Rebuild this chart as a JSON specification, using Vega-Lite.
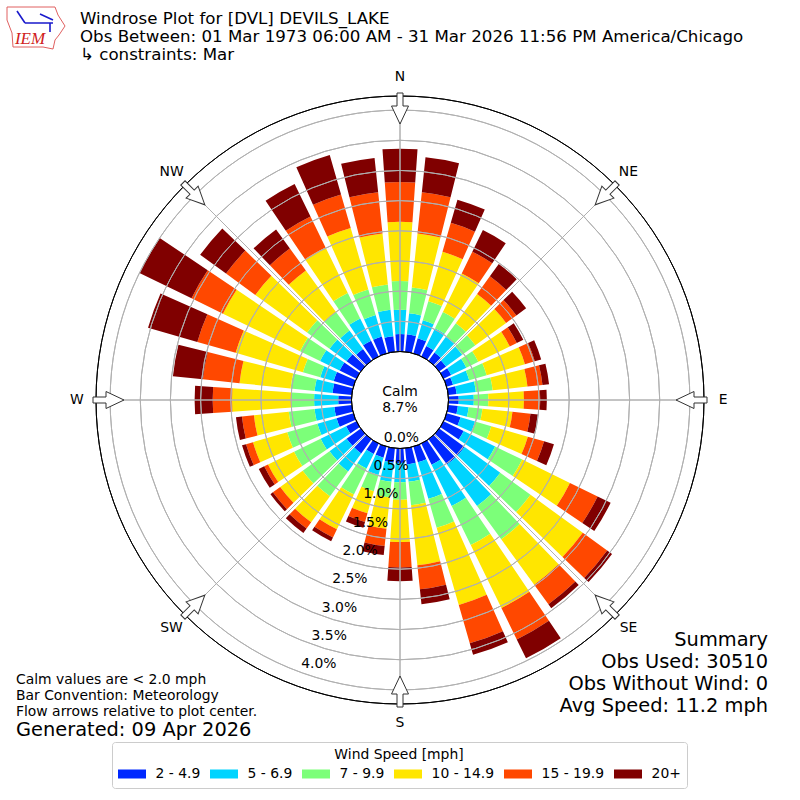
{
  "$schema": "https://vega.github.io/schema/vega-lite/v6.json",
  "width": 800,
  "height": 800,
  "padding": 0,
  "autosize": "none",
  "background": "white",
  "config": {
    "view": {"stroke": null},
    "font": "DejaVu Sans",
    "text": {"font": "DejaVu Sans", "color": "black"}
  },
  "title": {
    "text": ["Windrose Plot for [DVL] DEVILS_LAKE", "Obs Between: 01 Mar 1973 06:00 AM - 31 Mar 2026 11:56 PM America/Chicago", "\u00a0↳ constraints: Mar"],
    "anchor": "start",
    "frame": "group",
    "dx": 80,
    "offset": -64,
    "baseline": "top",
    "font": "DejaVu Sans",
    "fontSize": 16.67,
    "fontWeight": "normal",
    "lineHeight": 18,
    "color": "black"
  },
  "resolve": {"scale": {"x": "independent", "y": "independent"}},
  "layer": [
    {
      "data": {"values": [
        {"dir":0,"start":-4,"end":4,"speed":"2 - 4.9","low":0,"high":0.29},{"dir":0,"start":-4,"end":4,"speed":"5 - 6.9","low":0.29,"high":0.69},{"dir":0,"start":-4,"end":4,"speed":"7 - 9.9","low":0.69,"high":1.17},{"dir":0,"start":-4,"end":4,"speed":"10 - 14.9","low":1.17,"high":2.15},{"dir":0,"start":-4,"end":4,"speed":"15 - 19.9","low":2.15,"high":2.81},{"dir":0,"start":-4,"end":4,"speed":"20+","low":2.81,"high":3.36},
        {"dir":10,"start":6,"end":14,"speed":"2 - 4.9","low":0,"high":0.29},{"dir":10,"start":6,"end":14,"speed":"5 - 6.9","low":0.29,"high":0.64},{"dir":10,"start":6,"end":14,"speed":"7 - 9.9","low":0.64,"high":1.07},{"dir":10,"start":6,"end":14,"speed":"10 - 14.9","low":1.07,"high":1.97},{"dir":10,"start":6,"end":14,"speed":"15 - 19.9","low":1.97,"high":2.66},{"dir":10,"start":6,"end":14,"speed":"20+","low":2.66,"high":3.24},
        {"dir":20,"start":16,"end":24,"speed":"2 - 4.9","low":0,"high":0.26},{"dir":20,"start":16,"end":24,"speed":"5 - 6.9","low":0.26,"high":0.57},{"dir":20,"start":16,"end":24,"speed":"7 - 9.9","low":0.57,"high":0.9},{"dir":20,"start":16,"end":24,"speed":"10 - 14.9","low":0.9,"high":1.75},{"dir":20,"start":16,"end":24,"speed":"15 - 19.9","low":1.75,"high":2.25},{"dir":20,"start":16,"end":24,"speed":"20+","low":2.25,"high":2.65},
        {"dir":30,"start":26,"end":34,"speed":"2 - 4.9","low":0,"high":0.19},{"dir":30,"start":26,"end":34,"speed":"5 - 6.9","low":0.19,"high":0.52},{"dir":30,"start":26,"end":34,"speed":"7 - 9.9","low":0.52,"high":0.82},{"dir":30,"start":26,"end":34,"speed":"10 - 14.9","low":0.82,"high":1.53},{"dir":30,"start":26,"end":34,"speed":"15 - 19.9","low":1.53,"high":1.93},{"dir":30,"start":26,"end":34,"speed":"20+","low":1.93,"high":2.33},
        {"dir":40,"start":36,"end":44,"speed":"2 - 4.9","low":0,"high":0.17},{"dir":40,"start":36,"end":44,"speed":"5 - 6.9","low":0.17,"high":0.49},{"dir":40,"start":36,"end":44,"speed":"7 - 9.9","low":0.49,"high":0.77},{"dir":40,"start":36,"end":44,"speed":"10 - 14.9","low":0.77,"high":1.37},{"dir":40,"start":36,"end":44,"speed":"15 - 19.9","low":1.37,"high":1.73},{"dir":40,"start":36,"end":44,"speed":"20+","low":1.73,"high":1.98},
        {"dir":50,"start":46,"end":54,"speed":"2 - 4.9","low":0,"high":0.14},{"dir":50,"start":46,"end":54,"speed":"5 - 6.9","low":0.14,"high":0.47},{"dir":50,"start":46,"end":54,"speed":"7 - 9.9","low":0.47,"high":0.74},{"dir":50,"start":46,"end":54,"speed":"10 - 14.9","low":0.74,"high":1.37},{"dir":50,"start":46,"end":54,"speed":"15 - 19.9","low":1.37,"high":1.58},{"dir":50,"start":46,"end":54,"speed":"20+","low":1.58,"high":1.78},
        {"dir":60,"start":56,"end":64,"speed":"2 - 4.9","low":0,"high":0.14},{"dir":60,"start":56,"end":64,"speed":"5 - 6.9","low":0.14,"high":0.42},{"dir":60,"start":56,"end":64,"speed":"7 - 9.9","low":0.42,"high":0.64},{"dir":60,"start":56,"end":64,"speed":"10 - 14.9","low":0.64,"high":1.22},{"dir":60,"start":56,"end":64,"speed":"15 - 19.9","low":1.22,"high":1.35},{"dir":60,"start":56,"end":64,"speed":"20+","low":1.35,"high":1.47},
        {"dir":70,"start":66,"end":74,"speed":"2 - 4.9","low":0,"high":0.11},{"dir":70,"start":66,"end":74,"speed":"5 - 6.9","low":0.11,"high":0.39},{"dir":70,"start":66,"end":74,"speed":"7 - 9.9","low":0.39,"high":0.69},{"dir":70,"start":66,"end":74,"speed":"10 - 14.9","low":0.69,"high":1.35},{"dir":70,"start":66,"end":74,"speed":"15 - 19.9","low":1.35,"high":1.52},{"dir":70,"start":66,"end":74,"speed":"20+","low":1.52,"high":1.63},
        {"dir":80,"start":76,"end":84,"speed":"2 - 4.9","low":0,"high":0.14},{"dir":80,"start":76,"end":84,"speed":"5 - 6.9","low":0.14,"high":0.46},{"dir":80,"start":76,"end":84,"speed":"7 - 9.9","low":0.46,"high":0.74},{"dir":80,"start":76,"end":84,"speed":"10 - 14.9","low":0.74,"high":1.32},{"dir":80,"start":76,"end":84,"speed":"15 - 19.9","low":1.32,"high":1.57},{"dir":80,"start":76,"end":84,"speed":"20+","low":1.57,"high":1.68},
        {"dir":90,"start":86,"end":94,"speed":"2 - 4.9","low":0,"high":0.17},{"dir":90,"start":86,"end":94,"speed":"5 - 6.9","low":0.17,"high":0.42},{"dir":90,"start":86,"end":94,"speed":"7 - 9.9","low":0.42,"high":0.66},{"dir":90,"start":86,"end":94,"speed":"10 - 14.9","low":0.66,"high":1.25},{"dir":90,"start":86,"end":94,"speed":"15 - 19.9","low":1.25,"high":1.52},{"dir":90,"start":86,"end":94,"speed":"20+","low":1.52,"high":1.63},
        {"dir":100,"start":96,"end":104,"speed":"2 - 4.9","low":0,"high":0.16},{"dir":100,"start":96,"end":104,"speed":"5 - 6.9","low":0.16,"high":0.34},{"dir":100,"start":96,"end":104,"speed":"7 - 9.9","low":0.34,"high":0.57},{"dir":100,"start":96,"end":104,"speed":"10 - 14.9","low":0.57,"high":1.07},{"dir":100,"start":96,"end":104,"speed":"15 - 19.9","low":1.07,"high":1.37},{"dir":100,"start":96,"end":104,"speed":"20+","low":1.37,"high":1.5},
        {"dir":110,"start":106,"end":114,"speed":"2 - 4.9","low":0,"high":0.24},{"dir":110,"start":106,"end":114,"speed":"5 - 6.9","low":0.24,"high":0.49},{"dir":110,"start":106,"end":114,"speed":"7 - 9.9","low":0.49,"high":0.77},{"dir":110,"start":106,"end":114,"speed":"10 - 14.9","low":0.77,"high":1.4},{"dir":110,"start":106,"end":114,"speed":"15 - 19.9","low":1.4,"high":1.68},{"dir":110,"start":106,"end":114,"speed":"20+","low":1.68,"high":1.85},
        {"dir":120,"start":116,"end":124,"speed":"2 - 4.9","low":0,"high":0.37},{"dir":120,"start":116,"end":124,"speed":"5 - 6.9","low":0.37,"high":0.95},{"dir":120,"start":116,"end":124,"speed":"7 - 9.9","low":0.95,"high":1.45},{"dir":120,"start":116,"end":124,"speed":"10 - 14.9","low":1.45,"high":2.33},{"dir":120,"start":116,"end":124,"speed":"15 - 19.9","low":2.33,"high":2.84},{"dir":120,"start":116,"end":124,"speed":"20+","low":2.84,"high":3.08},
        {"dir":130,"start":126,"end":134,"speed":"2 - 4.9","low":0,"high":0.52},{"dir":130,"start":126,"end":134,"speed":"5 - 6.9","low":0.52,"high":1.25},{"dir":130,"start":126,"end":134,"speed":"7 - 9.9","low":1.25,"high":1.87},{"dir":130,"start":126,"end":134,"speed":"10 - 14.9","low":1.87,"high":2.94},{"dir":130,"start":126,"end":134,"speed":"15 - 19.9","low":2.94,"high":3.44},{"dir":130,"start":126,"end":134,"speed":"20+","low":3.44,"high":3.54},
        {"dir":140,"start":136,"end":144,"speed":"2 - 4.9","low":0,"high":0.52},{"dir":140,"start":136,"end":144,"speed":"5 - 6.9","low":0.52,"high":1.37},{"dir":140,"start":136,"end":144,"speed":"7 - 9.9","low":1.37,"high":2.05},{"dir":140,"start":136,"end":144,"speed":"10 - 14.9","low":2.05,"high":2.98},{"dir":140,"start":136,"end":144,"speed":"15 - 19.9","low":2.98,"high":3.38},{"dir":140,"start":136,"end":144,"speed":"20+","low":3.38,"high":3.46},
        {"dir":150,"start":146,"end":154,"speed":"2 - 4.9","low":0,"high":0.39},{"dir":150,"start":146,"end":154,"speed":"5 - 6.9","low":0.39,"high":1.15},{"dir":150,"start":146,"end":154,"speed":"7 - 9.9","low":1.15,"high":1.87},{"dir":150,"start":146,"end":154,"speed":"10 - 14.9","low":1.87,"high":3.03},{"dir":150,"start":146,"end":154,"speed":"15 - 19.9","low":3.03,"high":3.61},{"dir":150,"start":146,"end":154,"speed":"20+","low":3.61,"high":3.96},
        {"dir":160,"start":156,"end":164,"speed":"2 - 4.9","low":0,"high":0.27},{"dir":160,"start":156,"end":164,"speed":"5 - 6.9","low":0.27,"high":0.9},{"dir":160,"start":156,"end":164,"speed":"7 - 9.9","low":0.9,"high":1.4},{"dir":160,"start":156,"end":164,"speed":"10 - 14.9","low":1.4,"high":2.73},{"dir":160,"start":156,"end":164,"speed":"15 - 19.9","low":2.73,"high":3.39},{"dir":160,"start":156,"end":164,"speed":"20+","low":3.39,"high":3.59},
        {"dir":170,"start":166,"end":174,"speed":"2 - 4.9","low":0,"high":0.27},{"dir":170,"start":166,"end":174,"speed":"5 - 6.9","low":0.27,"high":0.56},{"dir":170,"start":166,"end":174,"speed":"7 - 9.9","low":0.56,"high":0.95},{"dir":170,"start":166,"end":174,"speed":"10 - 14.9","low":0.95,"high":1.95},{"dir":170,"start":166,"end":174,"speed":"15 - 19.9","low":1.95,"high":2.35},{"dir":170,"start":166,"end":174,"speed":"20+","low":2.35,"high":2.6},
        {"dir":180,"start":176,"end":184,"speed":"2 - 4.9","low":0,"high":0.24},{"dir":180,"start":176,"end":184,"speed":"5 - 6.9","low":0.24,"high":0.56},{"dir":180,"start":176,"end":184,"speed":"7 - 9.9","low":0.56,"high":0.85},{"dir":180,"start":176,"end":184,"speed":"10 - 14.9","low":0.85,"high":1.55},{"dir":180,"start":176,"end":184,"speed":"15 - 19.9","low":1.55,"high":1.97},{"dir":180,"start":176,"end":184,"speed":"20+","low":1.97,"high":2.2},
        {"dir":190,"start":186,"end":194,"speed":"2 - 4.9","low":0,"high":0.24},{"dir":190,"start":186,"end":194,"speed":"5 - 6.9","low":0.24,"high":0.56},{"dir":190,"start":186,"end":194,"speed":"7 - 9.9","low":0.56,"high":0.82},{"dir":190,"start":186,"end":194,"speed":"10 - 14.9","low":0.82,"high":1.34},{"dir":190,"start":186,"end":194,"speed":"15 - 19.9","low":1.34,"high":1.63},{"dir":190,"start":186,"end":194,"speed":"20+","low":1.63,"high":1.78},
        {"dir":200,"start":196,"end":204,"speed":"2 - 4.9","low":0,"high":0.19},{"dir":200,"start":196,"end":204,"speed":"5 - 6.9","low":0.19,"high":0.49},{"dir":200,"start":196,"end":204,"speed":"7 - 9.9","low":0.49,"high":0.77},{"dir":200,"start":196,"end":204,"speed":"10 - 14.9","low":0.77,"high":1.15},{"dir":200,"start":196,"end":204,"speed":"15 - 19.9","low":1.15,"high":1.3},{"dir":200,"start":196,"end":204,"speed":"20+","low":1.3,"high":1.4},
        {"dir":210,"start":206,"end":214,"speed":"2 - 4.9","low":0,"high":0.19},{"dir":210,"start":206,"end":214,"speed":"5 - 6.9","low":0.19,"high":0.46},{"dir":210,"start":206,"end":214,"speed":"7 - 9.9","low":0.46,"high":0.94},{"dir":210,"start":206,"end":214,"speed":"10 - 14.9","low":0.94,"high":1.58},{"dir":210,"start":206,"end":214,"speed":"15 - 19.9","low":1.58,"high":1.73},{"dir":210,"start":206,"end":214,"speed":"20+","low":1.73,"high":1.8},
        {"dir":220,"start":216,"end":224,"speed":"2 - 4.9","low":0,"high":0.29},{"dir":220,"start":216,"end":224,"speed":"5 - 6.9","low":0.29,"high":0.66},{"dir":220,"start":216,"end":224,"speed":"7 - 9.9","low":0.66,"high":1.17},{"dir":220,"start":216,"end":224,"speed":"10 - 14.9","low":1.17,"high":1.7},{"dir":220,"start":216,"end":224,"speed":"15 - 19.9","low":1.7,"high":1.83},{"dir":220,"start":216,"end":224,"speed":"20+","low":1.83,"high":1.92},
        {"dir":230,"start":226,"end":234,"speed":"2 - 4.9","low":0,"high":0.29},{"dir":230,"start":226,"end":234,"speed":"5 - 6.9","low":0.29,"high":0.64},{"dir":230,"start":226,"end":234,"speed":"7 - 9.9","low":0.64,"high":1.19},{"dir":230,"start":226,"end":234,"speed":"10 - 14.9","low":1.19,"high":1.65},{"dir":230,"start":226,"end":234,"speed":"15 - 19.9","low":1.65,"high":1.8},{"dir":230,"start":226,"end":234,"speed":"20+","low":1.8,"high":1.85},
        {"dir":240,"start":236,"end":244,"speed":"2 - 4.9","low":0,"high":0.19},{"dir":240,"start":236,"end":244,"speed":"5 - 6.9","low":0.19,"high":0.66},{"dir":240,"start":236,"end":244,"speed":"7 - 9.9","low":0.66,"high":1.15},{"dir":240,"start":236,"end":244,"speed":"10 - 14.9","low":1.15,"high":1.63},{"dir":240,"start":236,"end":244,"speed":"15 - 19.9","low":1.63,"high":1.7},{"dir":240,"start":236,"end":244,"speed":"20+","low":1.7,"high":1.8},
        {"dir":250,"start":246,"end":254,"speed":"2 - 4.9","low":0,"high":0.29},{"dir":250,"start":246,"end":254,"speed":"5 - 6.9","low":0.29,"high":0.62},{"dir":250,"start":246,"end":254,"speed":"7 - 9.9","low":0.62,"high":1.14},{"dir":250,"start":246,"end":254,"speed":"10 - 14.9","low":1.14,"high":1.73},{"dir":250,"start":246,"end":254,"speed":"15 - 19.9","low":1.73,"high":1.85},{"dir":250,"start":246,"end":254,"speed":"20+","low":1.85,"high":1.92},
        {"dir":260,"start":256,"end":264,"speed":"2 - 4.9","low":0,"high":0.29},{"dir":260,"start":256,"end":264,"speed":"5 - 6.9","low":0.29,"high":0.62},{"dir":260,"start":256,"end":264,"speed":"7 - 9.9","low":0.62,"high":1.05},{"dir":260,"start":256,"end":264,"speed":"10 - 14.9","low":1.05,"high":1.63},{"dir":260,"start":256,"end":264,"speed":"15 - 19.9","low":1.63,"high":1.83},{"dir":260,"start":256,"end":264,"speed":"20+","low":1.83,"high":1.93},
        {"dir":270,"start":266,"end":274,"speed":"2 - 4.9","low":0,"high":0.22},{"dir":270,"start":266,"end":274,"speed":"5 - 6.9","low":0.22,"high":0.62},{"dir":270,"start":266,"end":274,"speed":"7 - 9.9","low":0.62,"high":0.99},{"dir":270,"start":266,"end":274,"speed":"10 - 14.9","low":0.99,"high":1.98},{"dir":270,"start":266,"end":274,"speed":"15 - 19.9","low":1.98,"high":2.3},{"dir":270,"start":266,"end":274,"speed":"20+","low":2.3,"high":2.6},
        {"dir":280,"start":276,"end":284,"speed":"2 - 4.9","low":0,"high":0.32},{"dir":280,"start":276,"end":284,"speed":"5 - 6.9","low":0.32,"high":0.62},{"dir":280,"start":276,"end":284,"speed":"7 - 9.9","low":0.62,"high":1.02},{"dir":280,"start":276,"end":284,"speed":"10 - 14.9","low":1.02,"high":1.87},{"dir":280,"start":276,"end":284,"speed":"15 - 19.9","low":1.87,"high":2.48},{"dir":280,"start":276,"end":284,"speed":"20+","low":2.48,"high":2.98},
        {"dir":290,"start":286,"end":294,"speed":"2 - 4.9","low":0,"high":0.34},{"dir":290,"start":286,"end":294,"speed":"5 - 6.9","low":0.34,"high":0.57},{"dir":290,"start":286,"end":294,"speed":"7 - 9.9","low":0.57,"high":0.87},{"dir":290,"start":286,"end":294,"speed":"10 - 14.9","low":0.87,"high":2.03},{"dir":290,"start":286,"end":294,"speed":"15 - 19.9","low":2.03,"high":2.69},{"dir":290,"start":286,"end":294,"speed":"20+","low":2.69,"high":3.54},
        {"dir":300,"start":296,"end":304,"speed":"2 - 4.9","low":0,"high":0.31},{"dir":300,"start":296,"end":304,"speed":"5 - 6.9","low":0.31,"high":0.67},{"dir":300,"start":296,"end":304,"speed":"7 - 9.9","low":0.67,"high":1.04},{"dir":300,"start":296,"end":304,"speed":"10 - 14.9","low":1.04,"high":2.46},{"dir":300,"start":296,"end":304,"speed":"15 - 19.9","low":2.46,"high":3.04},{"dir":300,"start":296,"end":304,"speed":"20+","low":3.04,"high":4.0},
        {"dir":310,"start":306,"end":314,"speed":"2 - 4.9","low":0,"high":0.29},{"dir":310,"start":306,"end":314,"speed":"5 - 6.9","low":0.29,"high":0.64},{"dir":310,"start":306,"end":314,"speed":"7 - 9.9","low":0.64,"high":1.1},{"dir":310,"start":306,"end":314,"speed":"10 - 14.9","low":1.1,"high":2.16},{"dir":310,"start":306,"end":314,"speed":"15 - 19.9","low":2.16,"high":2.76},{"dir":310,"start":306,"end":314,"speed":"20+","low":2.76,"high":3.29},
        {"dir":320,"start":316,"end":324,"speed":"2 - 4.9","low":0,"high":0.24},{"dir":320,"start":316,"end":324,"speed":"5 - 6.9","low":0.24,"high":0.62},{"dir":320,"start":316,"end":324,"speed":"7 - 9.9","low":0.62,"high":1.0},{"dir":320,"start":316,"end":324,"speed":"10 - 14.9","low":1.0,"high":1.85},{"dir":320,"start":316,"end":324,"speed":"15 - 19.9","low":1.85,"high":2.3},{"dir":320,"start":316,"end":324,"speed":"20+","low":2.3,"high":2.69},
        {"dir":330,"start":326,"end":334,"speed":"2 - 4.9","low":0,"high":0.29},{"dir":330,"start":326,"end":334,"speed":"5 - 6.9","low":0.29,"high":0.7},{"dir":330,"start":326,"end":334,"speed":"7 - 9.9","low":0.7,"high":1.17},{"dir":330,"start":326,"end":334,"speed":"10 - 14.9","low":1.17,"high":2.01},{"dir":330,"start":326,"end":334,"speed":"15 - 19.9","low":2.01,"high":2.58},{"dir":330,"start":326,"end":334,"speed":"20+","low":2.58,"high":3.18},
        {"dir":340,"start":336,"end":344,"speed":"2 - 4.9","low":0,"high":0.29},{"dir":340,"start":336,"end":344,"speed":"5 - 6.9","low":0.29,"high":0.66},{"dir":340,"start":336,"end":344,"speed":"7 - 9.9","low":0.66,"high":1.1},{"dir":340,"start":336,"end":344,"speed":"10 - 14.9","low":1.1,"high":2.16},{"dir":340,"start":336,"end":344,"speed":"15 - 19.9","low":2.16,"high":2.74},{"dir":340,"start":336,"end":344,"speed":"20+","low":2.74,"high":3.42},
        {"dir":350,"start":346,"end":354,"speed":"2 - 4.9","low":0,"high":0.26},{"dir":350,"start":346,"end":354,"speed":"5 - 6.9","low":0.26,"high":0.7},{"dir":350,"start":346,"end":354,"speed":"7 - 9.9","low":0.7,"high":1.12},{"dir":350,"start":346,"end":354,"speed":"10 - 14.9","low":1.12,"high":1.97},{"dir":350,"start":346,"end":354,"speed":"15 - 19.9","low":1.97,"high":2.66},{"dir":350,"start":346,"end":354,"speed":"20+","low":2.66,"high":3.23}
      ]},
      "mark": {"type": "arc"},
      "encoding": {
        "theta": {"field": "start", "type": "quantitative", "stack": null, "scale": {"type": "linear", "domain": [0, 360], "range": [0, 6.283185307]}},
        "theta2": {"field": "end"},
        "radius": {"field": "high", "type": "quantitative", "scale": {"type": "linear", "zero": false, "domain": [0, 4.234], "range": [48.5, 304]}},
        "radius2": {"field": "low"},
        "color": {
          "field": "speed",
          "type": "nominal",
          "scale": {
            "domain": ["2 - 4.9", "5 - 6.9", "7 - 9.9", "10 - 14.9", "15 - 19.9", "20+"],
            "range": ["#0028ff", "#00d4ff", "#7cff79", "#ffe600", "#ff4800", "#800000"]
          },
          "legend": {
            "title": "Wind Speed [mph]",
            "orient": "none",
            "legendX": 112,
            "legendY": 742,
            "direction": "horizontal",
            "columns": 6,
            "columnPadding": 9,
            "clipHeight": 15,
            "titleAnchor": "middle",
            "titleFont": "DejaVu Sans",
            "titleFontWeight": "normal",
            "titleFontSize": 13.9,
            "titleColor": "black",
            "titlePadding": 4.5,
            "labelFont": "DejaVu Sans",
            "labelFontSize": 13.9,
            "labelColor": "black",
            "labelOffset": 9.6,
            "symbolType": "M-1,-0.32H1V0.32H-1Z",
            "symbolSize": 784,
            "symbolStrokeWidth": 0,
            "symbolOpacity": 1,
            "strokeColor": "#cccccc",
            "cornerRadius": 3,
            "fillColor": "white",
            "padding": 6
          }
        }
      }
    },
    {
      "data": {"values": [{"pct":0.5},{"pct":1.0},{"pct":1.5},{"pct":2.0},{"pct":2.5},{"pct":3.0},{"pct":3.5},{"pct":4.0}]},
      "mark": {"type": "arc", "filled": false, "fill": null, "stroke": "#b0b0b0", "strokeWidth": 1},
      "encoding": {
        "theta": {"datum": 0, "stack": null},
        "theta2": {"datum": 360},
        "radius": {"field": "pct", "type": "quantitative"},
        "radius2": {"field": "pct"}
      }
    },
    {
      "data": {"values": [{"deg":0},{"deg":45},{"deg":90},{"deg":135},{"deg":180},{"deg":225},{"deg":270},{"deg":315}]},
      "mark": {"type": "arc", "filled": false, "fill": null, "stroke": "#b0b0b0", "strokeWidth": 1},
      "encoding": {
        "theta": {"field": "deg", "type": "quantitative", "stack": null},
        "theta2": {"field": "deg"},
        "radius": {"datum": 4.234},
        "radius2": {"datum": 0}
      }
    },
    {
      "data": {"values": [{"pct":0},{"pct":4.234}]},
      "mark": {"type": "arc", "filled": false, "fill": null, "stroke": "black", "strokeWidth": 1},
      "encoding": {
        "theta": {"datum": 0, "stack": null},
        "theta2": {"datum": 360},
        "radius": {"field": "pct", "type": "quantitative"},
        "radius2": {"field": "pct"}
      }
    },
    {
      "data": {"values": [{"name":"N","deg":0},{"name":"NE","deg":45},{"name":"E","deg":90},{"name":"SE","deg":135},{"name":"S","deg":180},{"name":"SW","deg":225},{"name":"W","deg":270},{"name":"NW","deg":315}]},
      "mark": {"type": "point", "shape": "M-3,-307V-294H-8.5L0,-276L8.5,-294H3V-307Z", "size": 4, "filled": true, "fill": "white", "stroke": "#333333", "strokeWidth": 1, "opacity": 1},
      "encoding": {
        "angle": {"field": "deg", "type": "quantitative", "scale": {"domain": [0, 360], "range": [0, 360]}}
      }
    },
    {
      "data": {"values": [{"name":"N","deg":0},{"name":"NE","deg":45},{"name":"E","deg":90},{"name":"SE","deg":135},{"name":"S","deg":180},{"name":"SW","deg":225},{"name":"W","deg":270},{"name":"NW","deg":315}]},
      "mark": {"type": "text", "fontSize": 13.9, "align": "center", "baseline": "middle"},
      "encoding": {
        "theta": {"field": "deg", "type": "quantitative", "stack": null},
        "radius": {"datum": 4.55},
        "text": {"field": "name"}
      }
    },
    {
      "data": {"values": [{"pct":0,"label":"0.0%"},{"pct":0.5,"label":"0.5%"},{"pct":1.0,"label":"1.0%"},{"pct":1.5,"label":"1.5%"},{"pct":2.0,"label":"2.0%"},{"pct":2.5,"label":"2.5%"},{"pct":3.0,"label":"3.0%"},{"pct":3.5,"label":"3.5%"},{"pct":4.0,"label":"4.0%"}]},
      "mark": {"type": "text", "fontSize": 13.9, "align": "center", "baseline": "middle", "dx": 18, "dy": -8},
      "encoding": {
        "theta": {"datum": 200, "stack": null},
        "radius": {"field": "pct", "type": "quantitative"},
        "text": {"field": "label"}
      }
    },
    {
      "data": {"values": [{"label":"Calm\n8.7%"}]},
      "mark": {"type": "text", "fontSize": 13.9, "align": "center", "baseline": "middle", "lineBreak": "\n", "lineHeight": 16, "dy": -8},
      "encoding": {"text": {"field": "label"}}
    },
    {
      "data": {"values": [{"side":"right","line":"Summary"},{"side":"right","line":"Obs Used: 30510"},{"side":"right","line":"Obs Without Wind: 0"},{"side":"right","line":"Avg Speed: 11.2 mph"}]},
      "mark": {"type": "text", "fontSize": 19.4, "align": "right", "baseline": "middle"},
      "encoding": {
        "x": {"field": "side", "type": "nominal", "axis": null, "scale": {"domain": ["right"], "range": [768, 768], "padding": 0}},
        "y": {"field": "line", "type": "nominal", "sort": null, "axis": null, "scale": {"domain": ["Summary", "Obs Used: 30510", "Obs Without Wind: 0", "Avg Speed: 11.2 mph"], "range": [640, 706], "padding": 0}},
        "text": {"field": "line"}
      }
    },
    {
      "data": {"values": [{"side":"left","line":"Calm values are < 2.0 mph"},{"side":"left","line":"Bar Convention: Meteorology"},{"side":"left","line":"Flow arrows relative to plot center."}]},
      "mark": {"type": "text", "fontSize": 13.9, "align": "left", "baseline": "middle"},
      "encoding": {
        "x": {"field": "side", "type": "nominal", "axis": null, "scale": {"domain": ["left"], "range": [16, 16], "padding": 0}},
        "y": {"field": "line", "type": "nominal", "sort": null, "axis": null, "scale": {"domain": ["Calm values are < 2.0 mph", "Bar Convention: Meteorology", "Flow arrows relative to plot center."], "range": [680, 712], "padding": 0}},
        "text": {"field": "line"}
      }
    },
    {
      "data": {"values": [{"side":"left","line":"Generated: 09 Apr 2026"}]},
      "mark": {"type": "text", "fontSize": 19.4, "align": "left", "baseline": "middle"},
      "encoding": {
        "x": {"field": "side", "type": "nominal", "axis": null, "scale": {"domain": ["left"], "range": [16, 16], "padding": 0}},
        "y": {"field": "line", "type": "nominal", "axis": null, "scale": {"domain": ["Generated: 09 Apr 2026"], "range": [730, 730], "padding": 0}},
        "text": {"field": "line"}
      }
    },
    {
      "data": {"values": [{"part":"outline"}]},
      "mark": {"type": "point", "shape": "M-393,-393L-345,-393L-342,-385L-335,-374L-341,-365L-345,-360L-347,-351L-357,-353L-387,-353L-388,-367L-393,-380Z", "size": 4, "filled": false, "stroke": "#e06060", "strokeWidth": 1, "opacity": 1},
      "encoding": {}
    },
    {
      "data": {"values": [{"part":"station"}]},
      "mark": {"type": "point", "shape": "M-383,-389L-375,-377M-375,-377H-347M-360,-386L-347,-380M-350,-377V-368", "size": 4, "filled": false, "stroke": "#1a1acc", "strokeWidth": 1.6, "opacity": 1},
      "encoding": {}
    },
    {
      "data": {"values": [{"side":"logo","line":"IEM"}]},
      "mark": {"type": "text", "font": "Liberation Serif", "fontStyle": "italic", "fontSize": 17, "color": "#d02020", "align": "center", "baseline": "middle"},
      "encoding": {
        "x": {"field": "side", "type": "nominal", "axis": null, "scale": {"domain": ["logo"], "range": [30, 30], "padding": 0}},
        "y": {"field": "line", "type": "nominal", "axis": null, "scale": {"domain": ["IEM"], "range": [39, 39], "padding": 0}},
        "text": {"field": "line"}
      }
    }
  ]
}
